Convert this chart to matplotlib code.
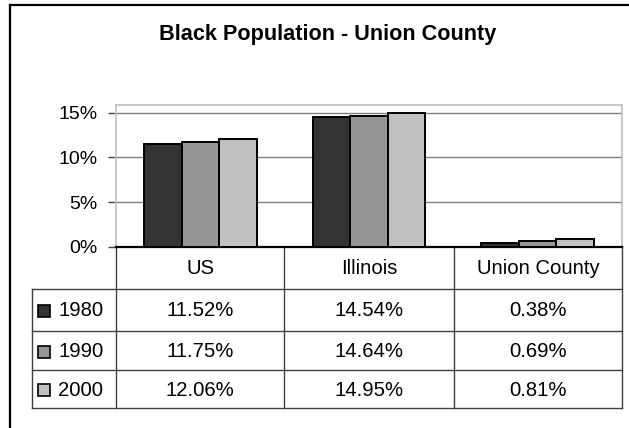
import matplotlib
matplotlib.use("Agg")
import matplotlib.pyplot as plt
import numpy as np
from matplotlib.patches import Rectangle

plt.rcParams['font.family'] = ['Liberation Sans', 'DejaVu Sans']

title = "Black Population - Union County"
categories = ["US", "Illinois", "Union County"]
years = ["1980", "1990", "2000"]
v1980 = [11.52, 14.54, 0.38]
v1990 = [11.75, 14.64, 0.69]
v2000 = [12.06, 14.95, 0.81]
series = [v1980, v1990, v2000]
colors = ["#333333", "#969696", "#C0C0C0"]
yticks = [0, 5, 10, 15]
ytick_labels = ["0%", "5%", "10%", "15%"]

W, H = 629, 428
fig = plt.figure(figsize=(W / 100, H / 100), dpi=100)

def fx(px):
    return px / W

def fy(py):
    return 1 - py / H

plot_l, plot_r, plot_t, plot_b = 116, 622, 105, 246.7
ax = fig.add_axes([fx(plot_l), fy(plot_b), fx(plot_r) - fx(plot_l), fy(plot_t) - fy(plot_b)])
ax.set_xlim(-0.5, 2.5)
ax.set_ylim(0, 15.86)

n = len(series)
bw = 1 / (n + 1.5)
x = np.arange(len(categories))
for i, (vals, c) in enumerate(zip(series, colors)):
    ax.bar(x + (i - 1) * bw, vals, width=bw, color=c, edgecolor="black", linewidth=1.4, zorder=3)

ax.set_yticks(yticks)
ax.set_yticklabels(ytick_labels, fontsize=14)
ax.set_xticks([])
ax.yaxis.grid(True, color="#808080", linewidth=1.0, zorder=0)
ax.tick_params(axis="y", direction="out", length=6, width=1, color="#404040", pad=7)
for s in ["top", "right", "left"]:
    ax.spines[s].set_color("#BFBFBF")
    ax.spines[s].set_linewidth(1.2)
ax.spines["bottom"].set_color("black")
ax.spines["bottom"].set_linewidth(1.6)
ax.set_axisbelow(True)

ov = fig.add_axes([0, 0, 1, 1], zorder=-1)
ov.set_xlim(0, W)
ov.set_ylim(H, 0)
ov.axis("off")
ov.patch.set_alpha(0)

ov.plot([10, 10], [4.5, H + 5], color="black", lw=1.6)
ov.plot([10, W + 5], [4.5, 4.5], color="black", lw=1.6)

ov.text(327.5, 40, title, ha="center", va="baseline", fontsize=15.6, fontweight="bold")

col_edges = [116, 284, 454, 622]
row_edges = [plot_b, 289, 331, 370, 408]
leg_l = 32
lc = "#404040"
for xe in col_edges:
    ov.plot([xe, xe], [plot_b, row_edges[-1]], color=lc, lw=1)
ov.plot([leg_l, leg_l], [row_edges[1], row_edges[-1]], color=lc, lw=1)
for ye in row_edges[1:]:
    ov.plot([leg_l, col_edges[-1]], [ye, ye], color=lc, lw=1)

fs = 14.6
for j, cat in enumerate(categories):
    cx = (col_edges[j] + col_edges[j + 1]) / 2
    ov.text(cx, (row_edges[0] + row_edges[1]) / 2 + 1, cat, ha="center", va="center", fontsize=fs)
for i, (yr, vals, c) in enumerate(zip(years, series, colors)):
    cy = (row_edges[i + 1] + row_edges[i + 2]) / 2 + 1
    ov.add_patch(Rectangle((38, cy - 6), 12, 12, facecolor=c, edgecolor="black", lw=1.2))
    ov.text(58, cy, yr, ha="left", va="center", fontsize=fs)
    for j, v in enumerate(vals):
        cx = (col_edges[j] + col_edges[j + 1]) / 2
        ov.text(cx, cy, f"{v:.2f}%", ha="center", va="center", fontsize=fs)

fig.savefig("out.png", dpi=100)
